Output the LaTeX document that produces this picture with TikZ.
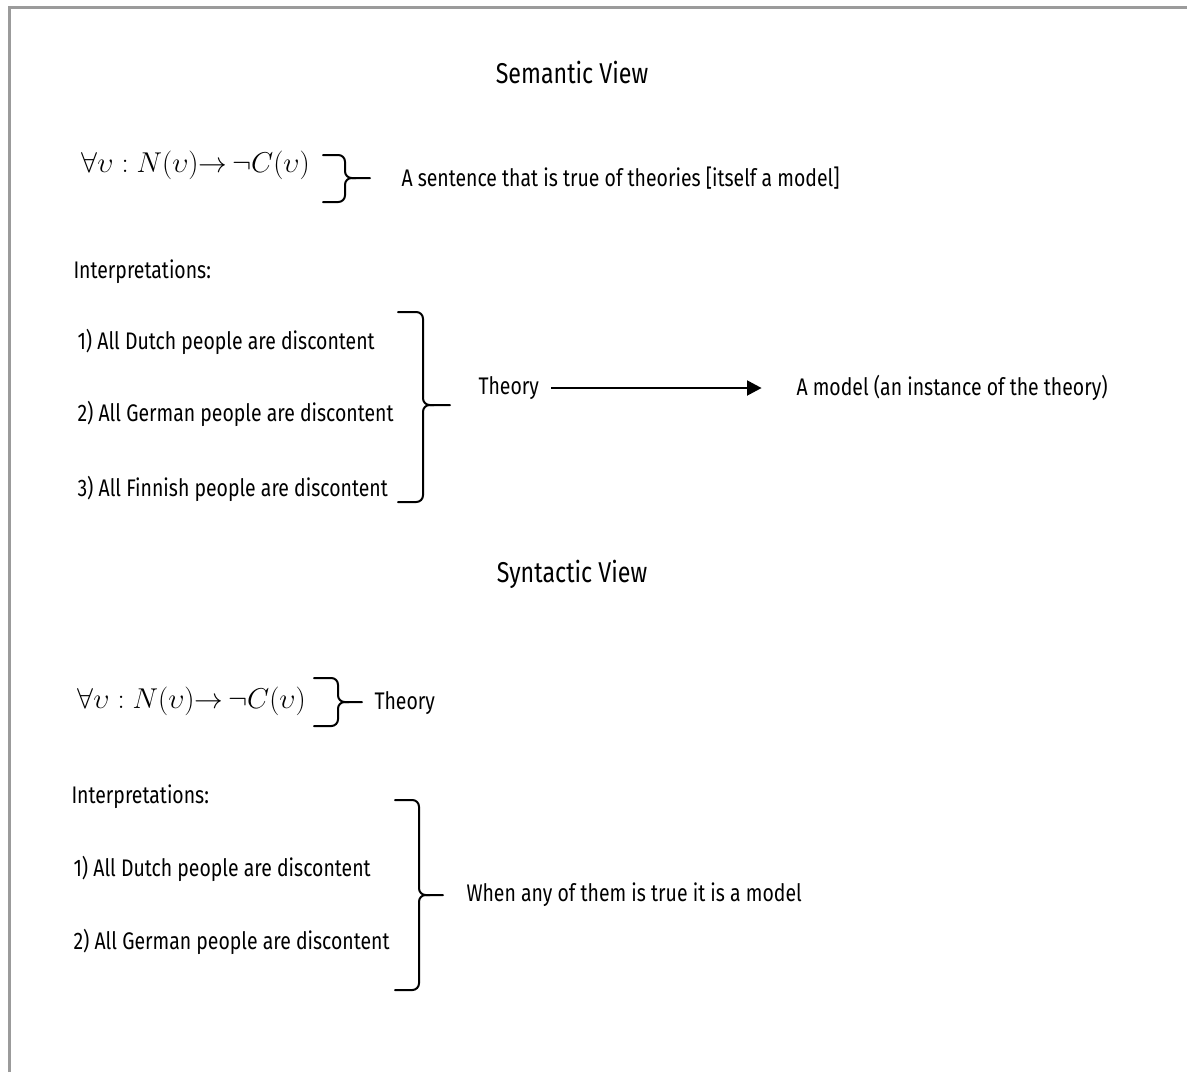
\RequirePackage{fix-cm}
\documentclass[tikz,border=0pt]{standalone}
\usepackage{fontspec}
\setmainfont{Fira Sans}[FakeStretch=0.81]
\usetikzlibrary{arrows.meta}

\tikzset{every picture/.style={line width=0.75pt}}
\tikzset{
	txt/.style={anchor=west,inner sep=0.75pt,font=\fontsize{18}{22}\selectfont},
	ttl/.style={inner sep=0.75pt,font=\fontsize{21.5}{25}\selectfont},
	frm/.style={anchor=west,inner sep=0.75pt,font=\fontsize{21.5}{25}\selectfont},
	brc/.style={line width=1.5pt,line join=round,line cap=round,rounded corners=5pt},
}

\begin{document}
\begin{tikzpicture}[x=0.75pt,y=0.75pt,yscale=-1,xscale=1]
		\useasboundingbox (0,0) rectangle (1187,1072);
		
		%Frame
		\draw [color={rgb,255:red,155;green,155;blue,155}, line width=2.25pt]  (9,1072) -- (9,7) -- (1187,7) ;
		
		% Titles
		\draw (572,72) node (semtitle) [ttl] {Semantic View};
		\draw (572,574) node (syntitle) [ttl] {Syntactic View};
		
		% Semantic view
		\draw (80,165) node (semform) [frm] {$\forall\upsilon : N(\upsilon){\to}\,\neg C(\upsilon)$};
		%Right Brace
		\draw [brc]  (323,155) -- (345,155) -- (345,178) -- (370,178) ;
		\draw [brc]  (323,202) -- (345,202) -- (345,178) -- (356,178) ;
		\draw (400,178) node (semnote) [txt] {A sentence that is true of theories [itself a model]};
		
		\draw (72,272) node (seminterp) [txt] {Interpretations:};
		\draw (76,342) node (semone) [txt] {1) All Dutch people are discontent};
		\draw (76,414) node (semtwo) [txt] {2) All German people are discontent};
		\draw (76,489) node (semthree) [txt] {3) All Finnish people are discontent};
		%Right Brace
		\draw [brc]  (398,312) -- (423,312) -- (423,405) -- (450,405) ;
		\draw [brc]  (398,502) -- (423,502) -- (423,405) -- (434,405) ;
		
		\draw (477,388) node (semtheory) [txt] {Theory};
		\draw (795,388) node (semmodel) [txt] {A model (an instance of the theory)};
		%Arrow
		\draw [-{Triangle[length=11pt,width=11pt]}, line width=2.2pt, shorten <=8pt, shorten >=25pt]  (semtheory.east) -- (semmodel.west) ;
		
		% Syntactic view
		\draw (76,701) node (synform) [frm] {$\forall\upsilon : N(\upsilon){\to}\,\neg C(\upsilon)$};
		%Right Brace
		\draw [brc]  (314,678) -- (338,678) -- (338,702) -- (362,702) ;
		\draw [brc]  (314,726) -- (338,726) -- (338,702) -- (349,702) ;
		\draw (373,703) node (syntheory) [txt] {Theory};
		
		\draw (70,797) node (syninterp) [txt] {Interpretations:};
		\draw (72,869) node (synone) [txt] {1) All Dutch people are discontent};
		\draw (72,942) node (syntwo) [txt] {2) All German people are discontent};
		%Right Brace
		\draw [brc]  (395,800) -- (419,800) -- (419,895) -- (443,895) ;
		\draw [brc]  (395,990) -- (419,990) -- (419,895) -- (430,895) ;
		\draw (465,895) node (synnote) [txt] {When any of them is true it is a model};
		
	\end{tikzpicture}
\end{document}
